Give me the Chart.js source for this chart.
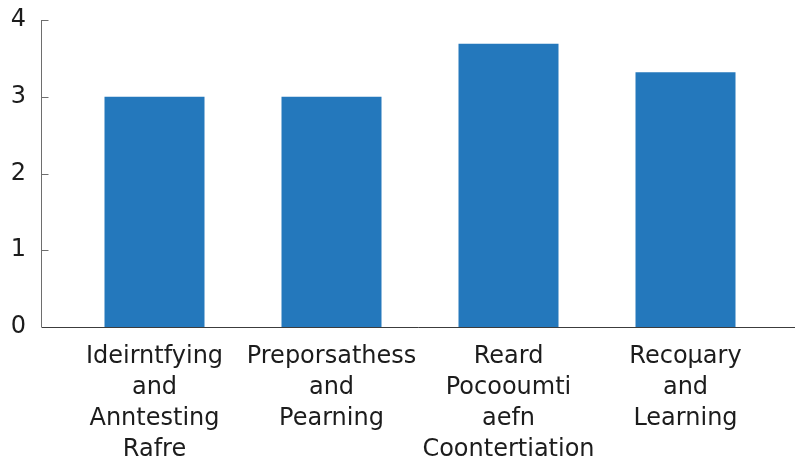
<!DOCTYPE html>
<html>
<head>
<meta charset="utf-8">
<script src="https://cdn.jsdelivr.net/npm/chart.js@4"></script>
<style>
  html, body { margin: 0; padding: 0; background: #fff; }
  #wrap { width: 795px; height: 461px; }
</style>
</head>
<body>
<div id="wrap"><canvas id="chart" width="795" height="461"></canvas></div>
<script>
const categories = [
    ['Ideirntfying', 'and', 'Anntesting', 'Rafre'],
    ['Preporsathess', 'and', 'Pearning'],
    ['Reard', 'Pocooumti', 'aefn', 'Coontertiation'],
    ['Recoµary', 'and', 'Learning']
];
const values = [3.0, 3.0, 3.69, 3.32];
const yTicks = [0, 1, 2, 3, 4];

const barBlue = '#2478bc';
const textColor = '#1c1c1c';

// axis lines drawn by hand: y line sits left of the category area, ticks point inward
const axisLines = {
    id: 'axisLines',
    afterDraw(chart) {
        const ctx = chart.ctx;
        const y = chart.scales.y;
        const axisX = 41.5;
        ctx.save();
        ctx.strokeStyle = '#6e6e6e';
        ctx.lineWidth = 1;
        ctx.beginPath();
        ctx.moveTo(axisX, y.getPixelForValue(yTicks[yTicks.length - 1]));
        ctx.lineTo(axisX, y.getPixelForValue(0));
        yTicks.forEach(function (t) {
            if (t === 0) return;
            const py = Math.round(y.getPixelForValue(t)) + 0.5;
            ctx.moveTo(axisX, py);
            ctx.lineTo(axisX + 7, py);
        });
        ctx.stroke();
        ctx.strokeStyle = '#3c3c3c';
        ctx.beginPath();
        const by = Math.round(y.getPixelForValue(0)) + 0.5;
        ctx.moveTo(axisX, by);
        ctx.lineTo(chart.width, by);
        ctx.stroke();
        ctx.restore();
    }
};

new Chart(document.getElementById('chart'), {
    type: 'bar',
    data: {
        labels: categories,
        datasets: [{
            data: values,
            backgroundColor: barBlue,
            borderWidth: 0,
            categoryPercentage: 1,
            barPercentage: 0.565
        }]
    },
    options: {
        responsive: false,
        animation: false,
        layout: {
            padding: { top: 20, right: 21, left: 0, bottom: 0 }
        },
        plugins: {
            legend: { display: false },
            tooltip: { enabled: false }
        },
        scales: {
            x: {
                grid: { display: false },
                border: { display: false },
                ticks: {
                    color: textColor,
                    padding: 6,
                    maxRotation: 0,
                    autoSkip: false,
                    font: { family: '"DejaVu Sans", sans-serif', size: 24, lineHeight: 1.29 }
                },
                afterFit: function (scale) {
                    scale.height = 134;
                    scale.paddingLeft = 0;
                    scale.paddingRight = 0;
                }
            },
            y: {
                min: 0,
                max: 4,
                grid: { display: false },
                border: { display: false },
                ticks: {
                    stepSize: 1,
                    color: textColor,
                    padding: 32,
                    font: { family: '"DejaVu Sans", sans-serif', size: 24 }
                },
                afterFit: function (scale) {
                    scale.width = 66;
                    scale.paddingTop = 0;
                    scale.paddingBottom = 0;
                }
            }
        }
    },
    plugins: [axisLines]
});
</script>
</body>
</html>
